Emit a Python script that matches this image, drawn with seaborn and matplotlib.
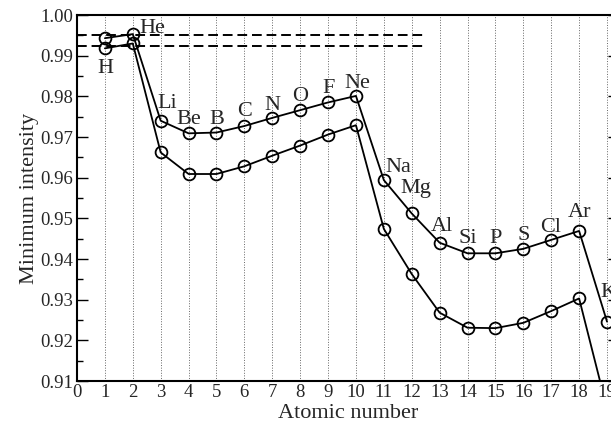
import matplotlib
matplotlib.use("Agg")
import matplotlib.pyplot as plt
import numpy as np
import pandas as pd
import seaborn as sns
from matplotlib.ticker import MultipleLocator, FormatStrFormatter

# data
elements = ["H", "He", "Li", "Be", "B", "C", "N", "O", "F", "Ne",
            "Na", "Mg", "Al", "Si", "P", "S", "Cl", "Ar", "K"]
atomic_number = list(range(1, 20))
upper = [0.9943, 0.9953, 0.9740, 0.9709, 0.9711, 0.9727, 0.9747, 0.9766, 0.9785, 0.9801,
         0.9594, 0.9512, 0.9440, 0.9414, 0.9414, 0.9425, 0.9447, 0.9469, 0.9246]
lower = [0.9918, 0.9930, 0.9662, 0.9609, 0.9609, 0.9628, 0.9654, 0.9679, 0.9706, 0.9729,
         0.9474, 0.9363, 0.9268, 0.9231, 0.9230, 0.9243, 0.9272, 0.9303, 0.9032]
dashed_levels = [0.9951, 0.99245]

# label offsets from the upper point, in points (baseline, centred)
label_dx = [0, 14, 5, 0, 0, 0, 0, 0, 0.7, 0.7, 10.4, 3, 1.4, 0, 0, 0, -0.7, 0, 1]
label_dy = [-24.8, 1, 8.9, 6.7, 6.3, 7.4, 5.8, 6.9, 6.9, 5.5, 6, 14.4, 8.6, 7.2, 7.2, 6.3, 5.5, 9.9, 18]

df = pd.DataFrame({"Z": atomic_number, "upper": upper, "lower": lower})

sns.set_theme(style="ticks")
plt.rcParams["font.family"] = ["Liberation Serif", "DejaVu Serif"]

fig = plt.figure(figsize=(6.11, 4.23), dpi=100)
ax = fig.add_axes([77 / 611, 1 - 381 / 423, (619 - 77) / 611, (381 - 15) / 423])

for col in ["upper", "lower"]:
    sns.lineplot(data=df, x="Z", y=col, ax=ax, color="black", lw=1.3,
                 marker="o", ms=8.5, mfc="none", mec="black", mew=1.3)

for y in dashed_levels:
    ax.plot([0, 12.45], [y, y], color="black", lw=1.4, ls=(0, (5, 2.5)))

for i, el in enumerate(elements):
    ax.annotate(el, (atomic_number[i], upper[i]), xytext=(label_dx[i], label_dy[i]),
                textcoords="offset points", ha="center", va="baseline", fontsize=16)

ax.set_xlim(0, 19.43)
ax.set_ylim(0.91, 1.00)
ax.xaxis.set_major_locator(MultipleLocator(1))
ax.yaxis.set_major_locator(MultipleLocator(0.01))
ax.yaxis.set_minor_locator(MultipleLocator(0.005))
ax.yaxis.set_major_formatter(FormatStrFormatter("%.2f"))
ax.grid(axis="x", ls=":", color="#666666", lw=0.7)
ax.tick_params(axis="x", length=0, labelsize=13.5, pad=2)
ax.tick_params(axis="y", which="major", direction="in", length=8, width=1,
               labelsize=13.5, right=True, color="black", pad=3)
ax.tick_params(axis="y", which="minor", direction="in", length=4, width=1,
               right=True, color="black")
for s in ax.spines.values():
    s.set_color("black")
    s.set_linewidth(1.5)
ax.set_xlabel("Atomic number", fontsize=16, labelpad=2)
ax.set_ylabel("Minimum intensity", fontsize=16, labelpad=1)

fig.savefig("out.png", dpi=100)
